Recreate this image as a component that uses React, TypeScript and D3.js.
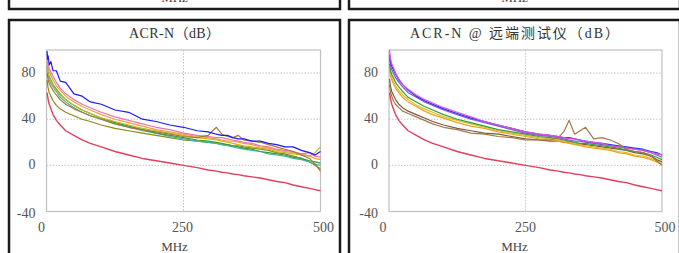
import React from 'react';
import * as d3 from 'd3';

// frequency grid (MHz) shared by every trace
const FREQ = [1, 2, 3, 5, 8, 12, 18, 25, 35, 50, 65, 80, 100, 125, 150, 175, 200, 225, 250, 275, 295, 310, 320, 330, 340, 350, 360, 375, 390, 405, 420, 435, 450, 465, 480, 490, 500];

// limit line (same on both panels)
const LIMIT = [63, 60, 57, 53, 49, 44, 39, 35, 30, 26, 22, 19, 16, 12, 9, 6, 4, 2, 0, -2, -4, -5, -6, -6.5, -7.5, -8, -9, -10, -11, -12.5, -14, -15, -17, -18.5, -20, -21, -22];

// left panel: ACR-N
const L_BLUE = [99, 92, 95, 87, 90, 82, 82, 73, 72, 62, 60, 55, 53, 48, 46, 40, 38, 35, 33, 30, 29, 27, 26, 26, 24, 23, 23, 21, 21, 19, 18, 16, 16, 13, 11, 9, 12];
const L_PINK = [93, 90, 87, 84, 81, 77, 72, 67, 62, 57, 53, 50, 46, 42, 39, 36, 33, 31, 28, 26, 25, 24, 24, 23, 22, 21, 20, 19, 17, 16, 14, 13, 12, 10, 11, 8, 7];
const L_ORANGE = [90, 87, 84, 81, 78, 74, 69, 65, 60, 55, 51, 48, 44, 40, 37, 34, 31, 29, 27, 25, 24, 23, 22, 21, 21, 20, 19, 18, 16, 15, 13, 12, 11, 10, 8, 6, 5];
const L_GOLD = [85, 82, 79, 76, 73, 69, 65, 61, 57, 52, 48, 45, 41, 38, 35, 32, 30, 28, 26, 24, 23, 22, 21, 20, 19, 18, 17, 16, 15, 14, 12, 11, 10, 9, 8, 11, 16];
const L_GREEN = [86, 83, 80, 77, 74, 70, 66, 62, 57, 52, 48, 45, 41, 37, 34, 31, 28, 26, 24, 22, 21, 20, 19, 18, 17, 16, 15, 14, 12, 11, 10, 9, 7, 6, 4, 3, 2];
const L_CYAN = [83, 80, 77, 74, 71, 68, 64, 59, 55, 50, 46, 43, 40, 36, 33, 30, 28, 25, 23, 21, 20, 19, 18, 17, 16, 15, 14, 13, 12, 10, 9, 8, 6, 5, 3, 1, 0];
const L_OLIVE = [74, 70, 67, 63, 60, 56, 52, 49, 46, 43, 40, 38, 35, 32, 30, 28, 26, 24, 22, 21, 20, 19, 18, 18, 17, 17, 16, 15, 14, 13, 11, 10, 8, 6, 3, 0, -3];
const L_BROWN = [80, 77, 74, 71, 68, 65, 61, 57, 53, 49, 46, 43, 40, 36, 33, 31, 29, 27, 25, 24, 26, 33, 27, 25, 24, 26, 22, 21, 20, 18, 16, 14, 12, 9, 6, 1, -5];

// right panel: ACR-N @ remote
const R_MAGENTA = [100, 95, 92, 88, 85, 80, 75, 70, 66, 61, 57, 54, 50, 46, 42, 38, 35, 32, 29, 27, 26, 25, 24, 23, 23, 22, 21, 20, 19, 17, 16, 15, 14, 13, 11, 10, 9];
const R_BLUE = [96, 92, 89, 86, 83, 79, 74, 70, 65, 60, 56, 53, 49, 45, 41, 38, 35, 32, 29, 27, 26, 25, 24, 24, 23, 22, 21, 20, 19, 18, 17, 16, 15, 14, 12, 11, 9];
const R_PURPLE = [92, 89, 86, 83, 80, 76, 72, 68, 63, 59, 55, 52, 48, 44, 40, 37, 34, 31, 28, 26, 25, 24, 23, 22, 21, 21, 20, 19, 18, 17, 16, 15, 14, 13, 11, 9, 7];
const R_GREEN = [88, 85, 82, 79, 76, 72, 68, 64, 59, 55, 51, 48, 44, 40, 37, 34, 31, 29, 27, 25, 24, 23, 22, 21, 20, 19, 19, 18, 17, 16, 15, 13, 12, 11, 9, 7, 5];
const R_GOLD = [85, 82, 79, 76, 73, 69, 65, 61, 57, 52, 49, 46, 42, 39, 36, 33, 30, 28, 26, 24, 23, 22, 21, 20, 19, 18, 17, 16, 15, 14, 12, 11, 9, 8, 6, 4, 2];
const R_ORANGE = [83, 80, 77, 74, 71, 67, 63, 59, 55, 51, 47, 44, 41, 37, 34, 32, 29, 27, 25, 23, 22, 21, 20, 19, 18, 17, 16, 15, 14, 13, 11, 10, 8, 7, 5, 3, 1];
const R_DARKBROWN = [75, 71, 68, 64, 61, 57, 53, 50, 47, 44, 41, 38, 35, 32, 30, 28, 27, 25, 23, 22, 21, 21, 20, 20, 19, 18, 18, 17, 16, 15, 14, 13, 11, 10, 8, 5, 3];
const R_BROWN = [70, 66, 63, 60, 56, 53, 50, 47, 45, 42, 39, 36, 33, 31, 28, 27, 25, 24, 22, 22, 22, 24, 29, 39, 27, 30, 33, 23, 24, 22, 19, 14, 12, 11, 8, 4, 0];

const Y_TICKS = [-40, 0, 40, 80];
const X_TICKS = [0, 250, 500];

const FONT = "'Liberation Serif', 'Noto Sans CJK SC', serif";

const leftSeries = [
  { values: L_OLIVE, color: '#8a8a10' },
  { values: L_CYAN, color: '#3cb8b0' },
  { values: L_GREEN, color: '#3a9a3a' },
  { values: L_GOLD, color: '#c8b818' },
  { values: L_ORANGE, color: '#f0a040' },
  { values: L_PINK, color: '#f070b0' },
  { values: L_BROWN, color: '#a07838' },
  { values: L_BLUE, color: '#1a1aff' },
  { values: LIMIT, color: '#e0405a', width: 1.4 },
];

const rightSeries = [
  { values: R_DARKBROWN, color: '#7a5a40' },
  { values: R_ORANGE, color: '#f0a020' },
  { values: R_GOLD, color: '#d8c020' },
  { values: R_GREEN, color: '#3a9a3a' },
  { values: R_PURPLE, color: '#8060c0' },
  { values: R_BLUE, color: '#2030ff' },
  { values: R_MAGENTA, color: '#e050e0' },
  { values: R_BROWN, color: '#a07848' },
  { values: LIMIT, color: '#e0405a', width: 1.4 },
];

const panels = [
  { title: 'ACR-N（dB）', titleLen: 91, left: 9, x0: 46.5, x1: 320.5, xlab: [-5, -1, 3], series: leftSeries },
  { title: 'ACR-N @ 远端测试仪（dB）', titleLen: 209, left: 349, x0: 389, x1: 662, xlab: [-6, 0, 3], series: rightSeries },
];

const PANEL_W = 331;
const PLOT_TOP = 50;
const PLOT_BOTTOM = 211.5;

function Panel({ p }) {
  const x = d3.scaleLinear().domain([0, 500]).range([p.x0, p.x1]);
  const y = d3.scaleLinear().domain([-40, 100]).range([PLOT_BOTTOM, PLOT_TOP]);
  const cx = p.left + PANEL_W / 2;

  return (
    <g>
      {/* bottom edge of the panel above */}
      <rect x={p.left} y={-60} width={PANEL_W} height={69} fill="none" stroke="#1a1a1a" strokeWidth={2.5} />
      <text x={cx} y={2} textAnchor="middle" fontFamily={FONT} fontSize={13} fill="#444">MHz</text>

      <rect x={p.left} y={20} width={PANEL_W} height={260} fill="#fff" stroke="#1a1a1a" strokeWidth={2.5} />

      <text x={cx} y={38} textAnchor="middle" fontFamily={FONT} fontSize={14} fill="#333"
        textLength={p.titleLen} lengthAdjust="spacing">{p.title}</text>

      {/* grid */}
      {Y_TICKS.filter(t => t > -40).map(t => (
        <line key={'gy' + t} x1={p.x0} x2={p.x1} y1={y(t)} y2={y(t)} stroke="#c4c4c4" strokeDasharray="1.5,1.5" />
      ))}
      <line x1={x(250)} x2={x(250)} y1={PLOT_TOP} y2={PLOT_BOTTOM} stroke="#c4c4c4" strokeDasharray="1.5,1.5" />
      <rect x={p.x0} y={PLOT_TOP} width={p.x1 - p.x0} height={PLOT_BOTTOM - PLOT_TOP} fill="none" stroke="#c0c0c0" strokeWidth={1.2} />

      {/* traces */}
      {p.series.map((s, i) => {
        const line = d3.line<number>()
          .x((_, j) => x(FREQ[j]))
          .y(d => y(d));
        return <path key={i} d={line(s.values) || ''} fill="none" stroke={s.color} strokeWidth={s.width || 1.2} strokeLinejoin="round" />;
      })}

      {/* y tick labels */}
      {Y_TICKS.map(t => (
        <text key={'ty' + t} x={p.x0 - 11} y={y(t) + (t === -40 ? 6 : 4)} textAnchor="end" fontFamily={FONT} fontSize={14} fill="#555">{t}</text>
      ))}
      {/* x tick labels */}
      {X_TICKS.map((t, i) => (
        <text key={'tx' + t} x={x(t) + p.xlab[i]} y={232} textAnchor="middle" fontFamily={FONT} fontSize={14} fill="#555">{t}</text>
      ))}
      <text x={cx} y={251} textAnchor="middle" fontFamily={FONT} fontSize={13} fill="#444">MHz</text>
    </g>
  );
}

export default function App() {
  return (
    <svg width={679} height={253} style={{ position: 'absolute', left: 0, top: 0, background: '#fff' }}>
      <rect width={679} height={253} fill="#fff" />
      {panels.map((p, i) => <Panel key={i} p={p} />)}
    </svg>
  );
}
